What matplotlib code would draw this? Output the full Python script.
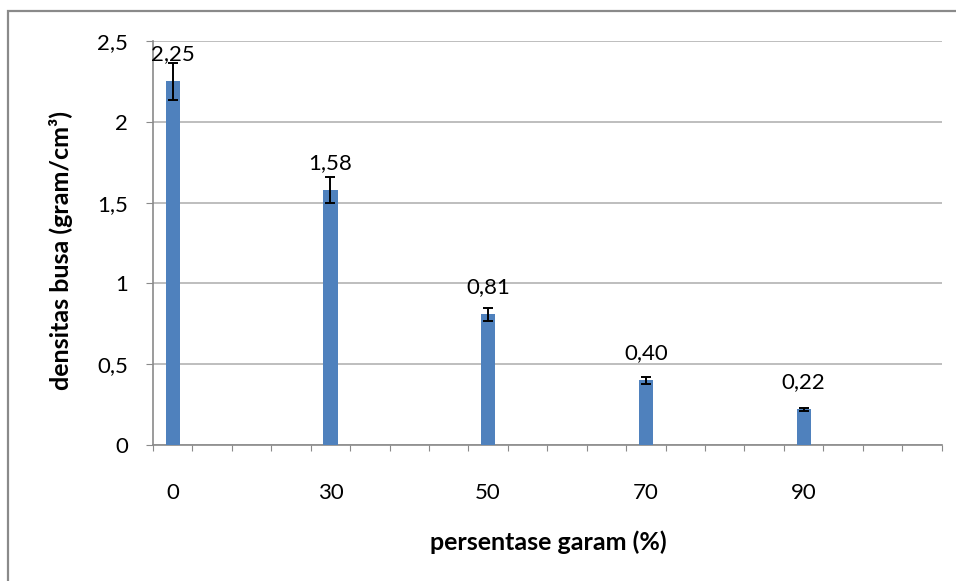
import matplotlib
matplotlib.use("Agg")
import matplotlib.pyplot as plt
from matplotlib.patches import Rectangle
import numpy as np

plt.rcParams['font.family'] = ['Lato', 'DejaVu Sans']

# data
labels = ["0", "30", "50", "70", "90"]
values = [2.25, 1.58, 0.81, 0.40, 0.22]
errors = [0.115, 0.08, 0.04, 0.02, 0.01]
value_text = ["2,25", "1,58", "0,81", "0,40", "0,22"]
y_ticks = [0, 0.5, 1, 1.5, 2, 2.5]
y_tick_text = ["0", "0,5", "1", "1,5", "2", "2,5"]

# category axis has 20 slots, data sits in every 4th one
n_slots = 20
step = 4
pos = np.arange(len(values)) * step

fig = plt.figure(figsize=(9.56, 5.81), dpi=100)
ax = fig.add_axes([0.160, 0.234, 0.825, 0.6954])

# outer chart frame
fig.patches.append(Rectangle((8/956, -0.1), 1.2, 1 - 11/581 + 0.1, transform=fig.transFigure,
                             fill=False, edgecolor='#8a8a8a', linewidth=1.6))

ax.bar(pos, values, width=0.36, color='#4F81BD', zorder=3)
ax.errorbar(pos, values, yerr=errors, fmt='none', ecolor='black', elinewidth=1.4,
            capsize=3.6, capthick=1.4, zorder=4)
for p, v, t in zip(pos, values, value_text):
    ax.annotate(t, (p, v), xytext=(0, 19.5), textcoords='offset points',
                ha='center', va='center', fontsize=16)

ax.set_xlim(-0.5, n_slots - 0.5)
ax.set_ylim(0, 2.5)
ax.set_yticks(y_ticks)
ax.set_yticklabels(y_tick_text, fontsize=16)
ax.tick_params(axis='y', length=5, color='#8a8a8a', pad=13)

ax.set_xticks(np.arange(n_slots + 1) - 0.5)
ax.set_xticklabels([])
ax.tick_params(axis='x', which='major', length=4, color='#8a8a8a', direction='out')
ax.set_xticks(pos, minor=True)
ax.set_xticklabels(labels, minor=True, fontsize=16)
ax.tick_params(axis='x', which='minor', length=0, pad=27)

ax.grid(axis='y', color='#b3b3b3', linewidth=1.2, zorder=0)
ax.set_axisbelow(True)
for s in ['top', 'right']:
    ax.spines[s].set_visible(False)
for s in ['left', 'bottom']:
    ax.spines[s].set_color('#8a8a8a')
    ax.spines[s].set_linewidth(1.2)

fig.text(548/956, 1 - 542/581, "persentase garam (%)", ha='center', va='center',
         fontsize=18, fontweight='bold')
fig.text(61/956, 1 - 250/581, "densitas busa (gram/cm³)", ha='center', va='center',
         rotation=90, fontsize=18, fontweight='bold')

fig.savefig("out.png", dpi=100)
